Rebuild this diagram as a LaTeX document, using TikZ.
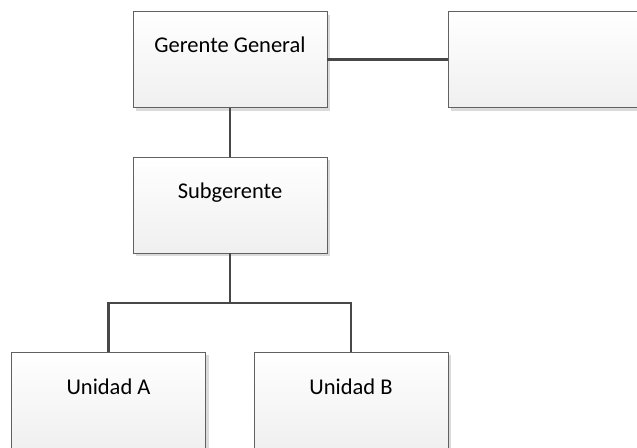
\documentclass[tikz,border=0pt]{standalone}
\usepackage{fontspec}
\setmainfont{Carlito}
\usetikzlibrary{shadows}
\begin{document}
\begin{tikzpicture}[x=1pt,y=-1pt,
  orgbox/.style={draw=black!62, line width=0.9pt, minimum width=194pt, minimum height=96pt,
    inner sep=0pt, top color=white, bottom color=black!6,
    drop shadow={shadow xshift=3pt, shadow yshift=-3pt, fill=black!14, opacity=1}},
  boxtext/.style={font=\fontsize{22.5}{26}\selectfont, text=black, anchor=center},
  link/.style={draw=black!72, line width=2.2pt}]
\useasboundingbox (0,0) rectangle (637,447);
\clip (0,0) rectangle (637,447);
% boxes
\node[orgbox] (g) at (230,59.5) {};
\node[orgbox] (r) at (545,59.5) {};
\node[orgbox] (s) at (230,205) {};
\node[orgbox] (a) at (108.5,400) {};
\node[orgbox] (b) at (351,400) {};
% titles
\node[boxtext] (gt) at ([yshift=-34pt]g.north) {Gerente General};
\node[boxtext] (st) at ([yshift=-36pt]s.north) {Subgerente};
\node[boxtext] (at) at ([yshift=-35pt]a.north) {Unidad A};
\node[boxtext] (bt) at ([yshift=-35pt]b.north) {Unidad B};
% connectors
\coordinate (j) at (230,303);
\draw[link] (g.east) -- (r.west);
\draw[link] (g.south) -- (s.north);
\draw[link] (s.south) -- (j);
\draw[link] (a.north) |- (j) -| (b.north);
\end{tikzpicture}
\end{document}
